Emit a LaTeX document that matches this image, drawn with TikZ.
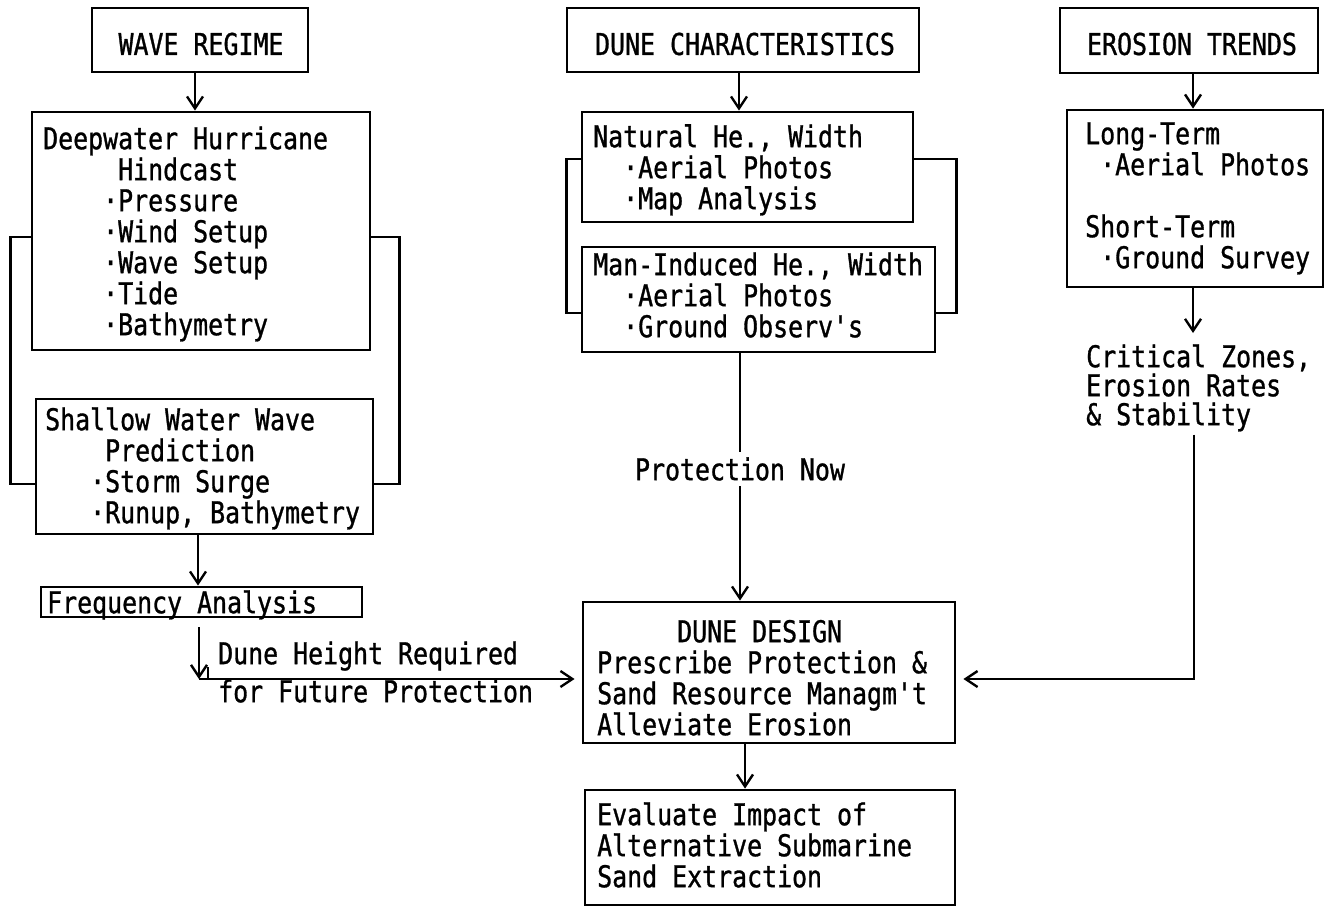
\documentclass[tikz,border=0pt]{standalone}
\usepackage{fontspec}
\usetikzlibrary{arrows.meta}
\newfontfamily\tw[FakeStretch=0.83,FakeBold=1]{DejaVu Sans Mono}
\newcommand\tst{\rule{0pt}{25pt}}
\newcommand\ind[1]{\hspace*{\dimexpr 15pt*#1\relax}}
\tikzset{
  box/.style={draw, line width=2.8pt, inner sep=0pt},
  txt/.style={font=\tw\fontsize{30}{31}\selectfont, align=left, inner sep=0pt, anchor=north west},
  ttl/.style={font=\tw\fontsize{30}{31}\selectfont, inner sep=0pt},
  ln/.style={line width=2.6pt},
  arr/.style={line width=2.6pt, -{Straight Barb[length=12pt,width=16pt,line width=2.4pt]}},
}
\begin{document}
\begin{tikzpicture}[x=1pt,y=-1pt]
\useasboundingbox (0,0) rectangle (1327,907);
% boxes
\node[box, minimum width=216, minimum height=64] (wr) at (200,40) {};
\node[box, minimum width=352, minimum height=64] (dc) at (743,40) {};
\node[box, minimum width=258, minimum height=65] (et) at (1189,40.5) {};
\node[box, minimum width=338, minimum height=238] (dw) at (201,231) {};
\node[box, minimum width=337, minimum height=135] (sw) at (204.5,466.5) {};
\node[box, minimum width=321, minimum height=30] (fa) at (201.5,602) {};
\node[box, minimum width=331, minimum height=110] (nh) at (747.5,167) {};
\node[box, minimum width=353, minimum height=105] (mi) at (758.5,299.5) {};
\node[box, minimum width=256, minimum height=177] (lt) at (1195,198.5) {};
\node[box, minimum width=372, minimum height=141] (dd) at (769,672.5) {};
\node[box, minimum width=370, minimum height=115] (ev) at (770,847.5) {};
% titles
\node[ttl] (wrt) at (201,44) {WAVE REGIME};
\node[ttl] (dct) at (745,44) {DUNE CHARACTERISTICS};
\node[ttl] (ett) at (1192,44) {EROSION TRENDS};
% texts
\node[txt] (dwt) at (43,124) {\tst Deepwater Hurricane\\ \ind{5}Hindcast\\ \ind{4}·Pressure\\ \ind{4}·Wind Setup\\ \ind{4}·Wave Setup\\ \ind{4}·Tide\\ \ind{4}·Bathymetry};
\node[txt] (swt) at (45,405) {\tst Shallow Water Wave\\ \ind{4}Prediction\\ \ind{3}·Storm Surge\\ \ind{3}·Runup, Bathymetry};
\node[txt] (fat) at (47,588) {\tst Frequency Analysis};
\node[txt] (nht) at (593,122) {\tst Natural He., Width\\ \ind{2}·Aerial Photos\\ \ind{2}·Map Analysis};
\node[txt] (mit) at (593,250) {\tst Man-Induced He., Width\\ \ind{2}·Aerial Photos\\ \ind{2}·Ground Observ's};
\node[txt] (ltt) at (1085,119) {\tst Long-Term\\ \ind{1}·Aerial Photos\\[31pt] Short-Term\\ \ind{1}·Ground Survey};
\node[txt] (cz) at (1086,342) {\tst Critical Zones,\\[-2pt] Erosion Rates\\[-2pt] \& Stability};
\node[txt] (ddt) at (597,617) {\tst\hspace*{80pt}DUNE DESIGN\\ Prescribe Protection \&\\ Sand Resource Managm't\\ Alleviate Erosion};
\node[txt] (evt) at (597,800) {\tst Evaluate Impact of\\ Alternative Submarine\\ Sand Extraction};
\node[txt] (dh) at (218,639) {\tst Dune Height Required\\[7pt] for Future Protection};
\node[ttl, inner ysep=5pt, inner xsep=0pt] (pn) at (740,469) {Protection Now};
% coordinates
\coordinate (c1) at (199,679);
\coordinate (c2) at (1194,679);
% arrows
\draw[arr] ([xshift=-5pt]wr.south) -- ([xshift=-5pt]wr.south |- dw.north);
\draw[arr] ([xshift=-4pt]dc.south) -- ([xshift=-4pt]dc.south |- nh.north);
\draw[arr] ([xshift=4pt]et.south) -- ([xshift=4pt]et.south |- lt.north);
\draw[arr] ([xshift=-6.5pt]sw.south) -- ([xshift=-6.5pt]sw.south |- fa.north);
\draw[arr, line width=2pt, shorten <=9pt] (fa.south -| c1) -- (c1);
\draw[arr, shorten >=7pt] (c1) -- (c1 -| dd.west);
\draw[line width=1.5pt] ([xshift=9pt]c1) -- ([xshift=9pt,yshift=12pt]c1);
\draw[ln] (pn.north |- mi.south) -- (pn.north);
\draw[arr] (pn.south) -- (pn.south |- dd.north);
\draw[arr, shorten >=9pt] ([xshift=-2pt]lt.south) -- ([xshift=-2pt]lt.south |- cz.north);
\draw[arr, shorten <=3pt, shorten >=7pt] (cz.south -| c2) -- (c2) -- (c2 -| dd.east);
\draw[arr] ([xshift=-24pt]dd.south) -- ([xshift=-24pt]dd.south |- ev.north);
% brackets
\draw[ln] ([yshift=-6pt]dw.west) -- ++(-20,0) |- ([yshift=-17.5pt]sw.west);
\draw[ln] ([yshift=-6pt]dw.east) -- ++(28,0) |- ([yshift=-17.5pt]sw.east);
\draw[ln] ([yshift=8pt]nh.west) -- ++(-14,0) |- ([yshift=-13.5pt]mi.west);
\draw[ln] ([yshift=8pt]nh.east) -- ++(42,0) |- ([yshift=-13.5pt]mi.east);
\end{tikzpicture}
\end{document}
